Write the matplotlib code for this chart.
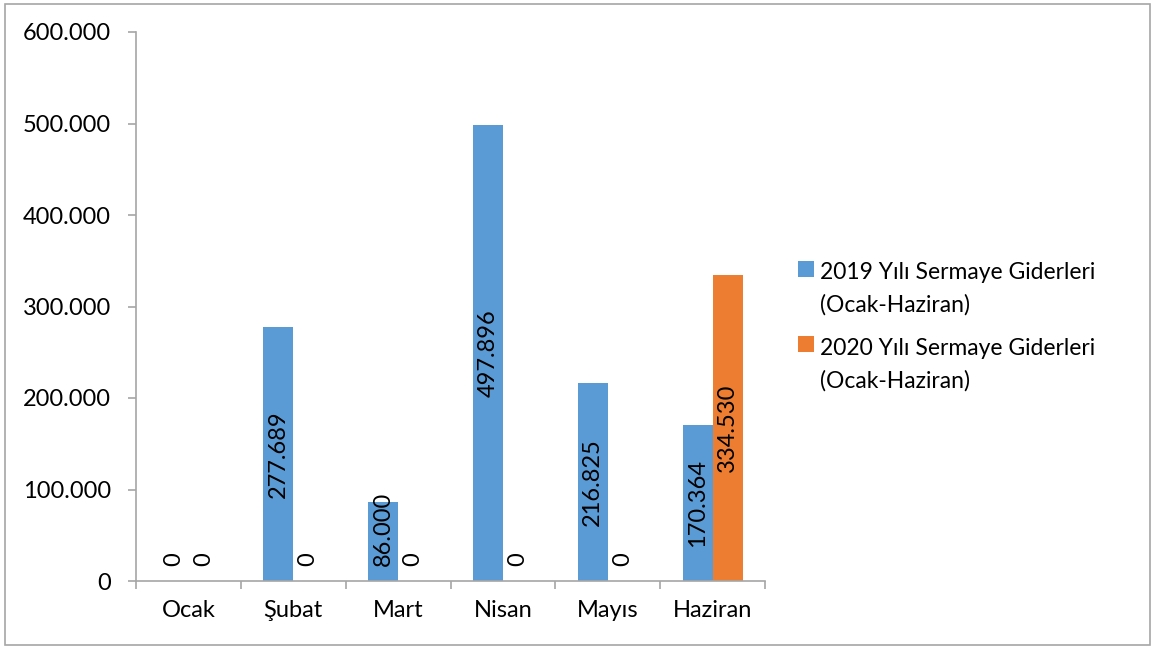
import matplotlib
matplotlib.use("Agg")
import matplotlib.pyplot as plt
from matplotlib.patches import Rectangle
from matplotlib.legend_handler import HandlerPatch
from matplotlib.container import BarContainer
import numpy as np

months = ["Ocak", "Şubat", "Mart", "Nisan", "Mayıs", "Haziran"]
vals_2019 = [0, 277689, 86000, 497896, 216825, 170364]
vals_2020 = [0, 0, 0, 0, 0, 334530]
series_names = ["2019 Yılı Sermaye Giderleri\n(Ocak-Haziran)",
                "2020 Yılı Sermaye Giderleri\n(Ocak-Haziran)"]
yticks = [0, 100000, 200000, 300000, 400000, 500000, 600000]
colors = ["#5B9BD5", "#ED7D31"]

plt.rcParams['font.family'] = ['Lato', 'DejaVu Sans']

def fmt(v):
    return f"{int(v):,}".replace(",", ".")

fig = plt.figure(figsize=(11.55, 6.48), dpi=100)
ax = fig.add_axes([136/1155, 1-581/648, 629/1155, 549/648])

x = np.arange(len(months))
w = 0.286
for i, (vals, c) in enumerate(zip([vals_2019, vals_2020], colors)):
    ax.bar(x + (i - 0.5) * w, vals, width=w, color=c, label=series_names[i])

ax.set_xlim(-0.5, len(months) - 0.5)
ax.set_ylim(0, 600000)
ax.set_yticks(yticks)
ax.set_yticklabels([fmt(v) for v in yticks])
ax.set_xticks(x)
ax.set_xticklabels(months)
ax.set_xticks(np.arange(len(months) + 1) - 0.5, minor=True)
ax.tick_params(axis='x', which='major', length=0, pad=14, labelsize=17)
ax.tick_params(axis='x', which='minor', length=6, width=1.2, color='#A6A6A6', direction='out')
ax.tick_params(axis='y', length=6, width=1.2, color='#A6A6A6', labelsize=17, pad=12)
for s in ['top', 'right']:
    ax.spines[s].set_visible(False)
for s in ['left', 'bottom']:
    ax.spines[s].set_color('#A6A6A6')
    ax.spines[s].set_linewidth(1.2)

# data labels
min_center = 57000
for i, vals in enumerate([vals_2019, vals_2020]):
    for xi, v in zip(x, vals):
        xp = xi + (i - 0.5) * w
        lab = fmt(v)
        if v == 0:
            yc = 24000
        else:
            yc = max(v / 2, min_center)
        ax.text(xp, yc, lab, rotation=90, ha='center', va='center',
                fontsize=17, color='black')

def shifted_rect(legend, orig_handle, xdescent, ydescent, width, height, fontsize):
    return Rectangle((-xdescent, -ydescent + 0.9 * fontsize), width, height)

def upd(handle, orig):
    handle.update_from(orig.patches[0])

leg = ax.legend(loc='upper left', bbox_to_anchor=(789/1155, 1-253/648),
                bbox_transform=fig.transFigure, frameon=False, fontsize=16.5,
                handlelength=0.7, handleheight=0.7, handletextpad=0.25,
                labelspacing=1.0, borderaxespad=0,
                handler_map={BarContainer: HandlerPatch(patch_func=shifted_rect,
                                                        update_func=upd)})
for t in leg.get_texts():
    t.set_linespacing(1.6)

fig.patches.append(Rectangle((5/1155, 3/648), 1145/1155, 641/648,
                             transform=fig.transFigure, fill=False,
                             edgecolor='#A6A6A6', linewidth=1.2))

fig.savefig("out.png", dpi=100)
